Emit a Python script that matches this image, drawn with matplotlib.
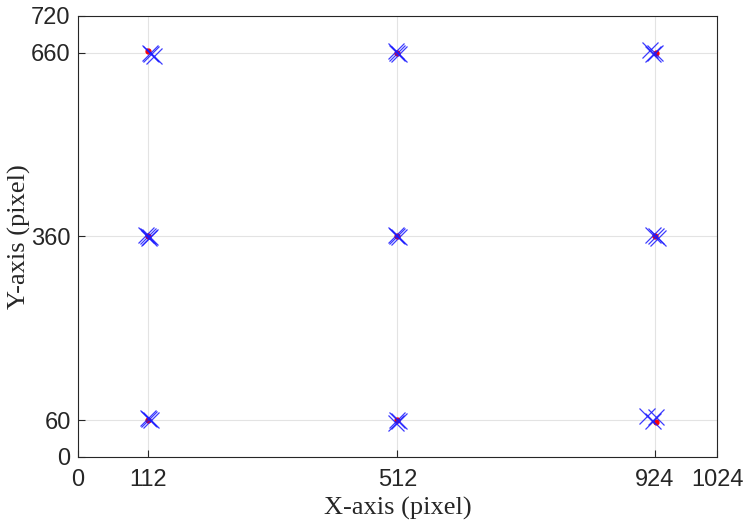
import matplotlib
matplotlib.use("Agg")
import matplotlib.pyplot as plt

# Ground-truth positions (red dots)
true_x = [113, 512, 926, 112, 512, 924, 112, 512, 926]
true_y = [662, 660, 659, 360, 360, 360, 60, 60, 57]

# Measured positions (blue crosses)
meas_x = [118, 122, 116,  512, 514, 510,  916, 922, 925,
          110, 114, 112, 116,  512, 510, 514,  926, 929, 922,
          115, 118, 112,  512, 510, 514,  911, 926, 922]
meas_y = [658, 654, 660,  660, 657, 662,  664, 657, 660,
          362, 358, 361, 359,  361, 363, 359,  360, 358, 362,
          62, 60, 63,  61, 56, 58,  67, 65, 59]

xticks = [0, 112, 512, 924, 1024]
yticks = [0, 60, 360, 660, 720]

fig = plt.figure(figsize=(7.47, 5.27), dpi=100)
ax = fig.add_axes([0.104, 0.133, 0.856, 0.837])

ax.plot(true_x, true_y, linestyle='none', marker='.', color='red', markersize=7, zorder=3)
ax.plot(meas_x, meas_y, linestyle='none', marker='x', color='#1a1aff', markersize=11,
        markeredgewidth=0.9, alpha=0.85, zorder=4)

ax.set_xlim(0, 1024)
ax.set_ylim(0, 720)
ax.set_xticks(xticks)
ax.set_yticks(yticks)
tickfont = ['Liberation Sans', 'DejaVu Sans']
ax.set_xticklabels([str(t) for t in xticks], fontsize=17, family=tickfont, color='#262626')
ax.set_yticklabels([str(t) for t in yticks], fontsize=17, family=tickfont, color='#262626')
ax.tick_params(direction='in', length=5, width=0.8, colors='#262626', top=False, right=False)
ax.tick_params(axis='x', pad=9)
ax.tick_params(axis='y', pad=5)
ax.grid(True, color='#e3e3e3', linewidth=0.8)
ax.set_axisbelow(True)
for s in ax.spines.values():
    s.set_color('#262626')
    s.set_linewidth(0.8)

labfont = ['Liberation Serif', 'DejaVu Serif']
ax.set_xlabel('X-axis (pixel)', fontsize=19, family=labfont, color='#262626', labelpad=4)
ax.set_ylabel('Y-axis (pixel)', fontsize=19, family=labfont, color='#262626', labelpad=0)

fig.savefig('out.png', dpi=100)
